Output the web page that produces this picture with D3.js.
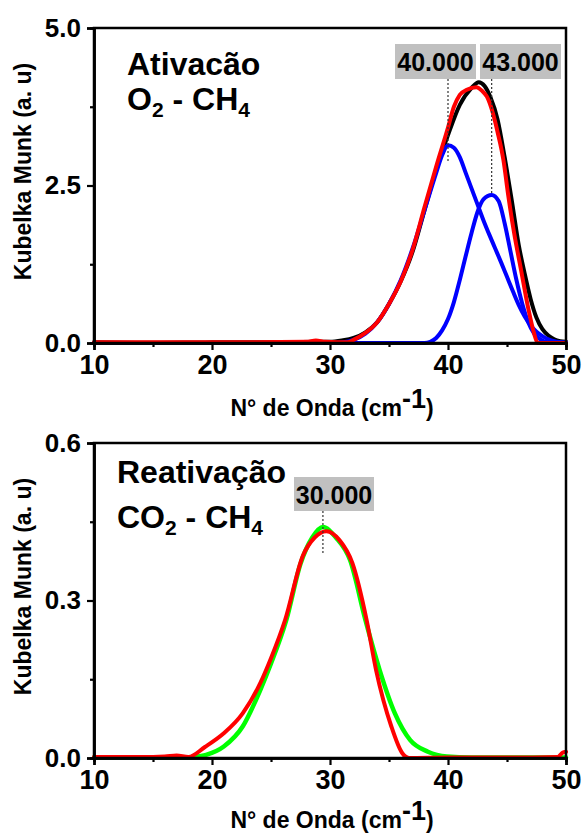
<!DOCTYPE html>
<html><head><meta charset="utf-8">
<script src="https://cdn.jsdelivr.net/npm/d3@7"></script>
<style>
body{margin:0;background:#fff}
text{font-family:Arial,"Liberation Sans",sans-serif;font-weight:bold;fill:#000}
</style>
</head><body>
<svg id="c" width="583" height="834"></svg>
<script>
// ---------- data ----------
const xTicks = [10, 20, 30, 40, 50];
const xMinor = [15, 25, 35, 45];
const topYTicks = [0, 2.5, 5];
const topYLabels = ["0.0", "2.5", "5.0"];
const topYMinor = [1.25, 3.75];
const botYTicks = [0, 0.3, 0.6];
const botYLabels = ["0.0", "0.3", "0.6"];
const botYMinor = [0.15, 0.45];

// Top panel: Ativacão O2 - CH4
const topBlack = [[10,0.01],[15,0.005],[20,0.01],[25,0.01],[29,0.02],[30,0.02],[31,0.04],[32,0.08],[33,0.17],[34,0.33],[35,0.62],[36,0.98],[37,1.45],[38,2.1],[39,2.75],[40,3.3],[41,3.78],[42,4.05],[42.6,4.14],[43.1,4.08],[43.6,3.9],[44.2,3.55],[44.8,2.95],[45.4,2.27],[46,1.55],[46.5,1.1],[47,0.7],[47.5,0.4],[48,0.22],[48.5,0.12],[49,0.06],[49.5,0.03],[50,0.02]];
const topBlue1 = [[10,0],[30,0],[31,0.01],[32,0.05],[33,0.15],[34,0.33],[35,0.62],[36,1.0],[37,1.5],[38,2.1],[39,2.7],[39.5,2.98],[40,3.14],[40.5,3.1],[41,2.95],[41.5,2.7],[42,2.45],[42.5,2.2],[43,1.95],[43.5,1.72],[44,1.5],[44.5,1.28],[45,1.05],[45.5,0.82],[46,0.6],[46.5,0.42],[47,0.28],[47.5,0.18],[48,0.11],[48.5,0.06],[49,0.03],[50,0.01]];
const topBlue2 = [[10,0],[38,0],[38.5,0.02],[39,0.08],[39.5,0.2],[40,0.38],[40.5,0.65],[41,1.0],[41.5,1.38],[42,1.75],[42.5,2.08],[43,2.28],[43.7,2.35],[44.3,2.25],[44.8,1.9],[45.3,1.45],[45.8,1.0],[46.3,0.62],[46.8,0.33],[47.3,0.15],[47.8,0.06],[48.5,0.01],[50,0]];
const topRed = [[10,0.01],[20,0.01],[28,0.02],[28.8,0.04],[29.6,0.02],[31.5,0.01],[32,0.05],[33,0.16],[34,0.33],[35,0.62],[36,0.98],[37,1.48],[38,2.15],[39,2.8],[40,3.42],[40.5,3.75],[41,3.94],[41.6,4.02],[42.4,4.06],[42.9,4.0],[43.3,3.91],[43.8,3.65],[44.2,3.35],[44.7,2.9],[45.1,2.35],[45.6,1.75],[46.2,1.15],[46.8,0.55],[47.3,0.15],[47.6,0.0],[48,0.0],[50,0.0]];
const topPeakLabels = ["40.000", "43.000"];
const topPeakX = [40.0, 43.7];
const topPeakY = [2.86, 2.35];

// Bottom panel: Reativação CO2 - CH4
const botGreen = [[10,0.001],[14,0.001],[18,0.001],[18.5,0.002],[19.5,0.006],[21,0.022],[22.6,0.06],[24.1,0.13],[25,0.18],[26.3,0.263],[27.5,0.37],[28.5,0.42],[29.4,0.44],[30.5,0.42],[31.7,0.377],[33.0,0.263],[34.2,0.168],[35.5,0.085],[36.8,0.034],[38.3,0.012],[39.9,0.003],[42,0.001],[50,0.001]];
const botRed = [[10,0.002],[14,0.002],[16,0.003],[17,0.005],[18,0.002],[19.4,0.021],[21,0.047],[22.6,0.085],[24.1,0.143],[25,0.19],[26.2,0.263],[27.7,0.385],[28.7,0.42],[29.7,0.432],[30.8,0.415],[31.9,0.371],[33.1,0.263],[33.9,0.168],[35.2,0.06],[36.1,0.01],[36.7,0.0],[40,0.001],[45,0.001],[49.3,0.002],[49.7,0.01],[50,0.012]];
const botPeakLabels = ["30.000"];
const botPeakX = [29.4];
const botPeakY = [0.39];

// ---------- drawing ----------
const svg = d3.select("#c");
const L = 94, R = 566;
const FF = "Arial, 'Liberation Sans', sans-serif";

function panel(o) {
  const g = svg.append("g");
  const x = d3.scaleLinear().domain([10, 50]).range([L, R]);
  const y = d3.scaleLinear().domain(o.yDomain).range([o.bottom, o.top]);

  const line = d3.line().x(d => x(d[0])).y(d => y(d[1])).curve(d3.curveMonotoneX);
  o.series.forEach(s => {
    g.append("path").datum(s.data).attr("d", line)
      .attr("fill", "none").attr("stroke", s.color).attr("stroke-width", s.w)
      .attr("stroke-linejoin", "round").attr("stroke-linecap", "round");
  });

  g.append("rect").attr("x", L).attr("y", o.top).attr("width", R - L).attr("height", o.bottom - o.top)
    .attr("fill", "none").attr("stroke", "#000").attr("stroke-width", 2.5);

  const xa = g.append("g").attr("transform", `translate(0,${o.bottom})`)
    .call(d3.axisBottom(x).tickValues(xTicks).tickSize(7).tickPadding(5).tickFormat(d3.format("d")));
  const xm = g.append("g").attr("transform", `translate(0,${o.bottom})`)
    .call(d3.axisBottom(x).tickValues(xMinor).tickSize(4).tickFormat(""));
  const ya = g.append("g").attr("transform", `translate(${L},0)`)
    .call(d3.axisLeft(y).tickValues(o.yTicks).tickSize(7).tickPadding(6).tickFormat((d, i) => o.yLabels[i]));
  const ym = g.append("g").attr("transform", `translate(${L},0)`)
    .call(d3.axisLeft(y).tickValues(o.yMinor).tickSize(4).tickFormat(""));
  [xa, xm, ya, ym].forEach(a => {
    a.select(".domain").attr("stroke", "#000").attr("stroke-width", 2.5);
    a.selectAll(".tick line").attr("stroke", "#000").attr("stroke-width", 2.2);
  });
  xa.selectAll(".tick text").attr("font-size", 27).attr("font-family", FF).attr("font-weight", "bold");
  ya.selectAll(".tick text").attr("font-size", 26).attr("font-family", FF).attr("font-weight", "bold");

  const xt = g.append("text").attr("x", (L + R) / 2 + 2).attr("y", o.bottom + o.xTitleDy).attr("text-anchor", "middle").attr("font-size", 23);
  xt.append("tspan").text("N° de Onda (cm");
  xt.append("tspan").attr("font-size", 27).attr("dy", -8).text("-1");
  xt.append("tspan").attr("font-size", 23).attr("dy", 8).text(")");
  g.append("text").attr("transform", `translate(31,${(o.top + o.bottom) / 2 - 14}) rotate(-90)`)
    .attr("text-anchor", "middle").attr("font-size", 23).text("Kubelka Munk (a. u)");

  g.append("text").attr("x", o.titleX).attr("y", o.top + o.titleDy1).attr("font-size", 32).text(o.title1);
  const t2 = g.append("text").attr("x", o.titleX).attr("y", o.top + o.titleDy2).attr("font-size", 32);
  o.title2.forEach(p => {
    t2.append("tspan").attr("font-size", p.sub ? 21 : 32).attr("dy", p.sub ? 7 : (p.after ? -7 : 0)).text(p.t);
  });

  o.peaks.forEach(p => {
    const px = x(p.x), py = y(p.y);
    g.append("line").attr("x1", px).attr("x2", px).attr("y1", o.top + p.boxTop + p.boxH).attr("y2", py)
      .attr("stroke", "#333").attr("stroke-width", 1.2).attr("stroke-dasharray", "2,2");
    g.append("rect").attr("x", p.boxX).attr("y", o.top + p.boxTop).attr("width", p.boxW).attr("height", p.boxH)
      .attr("fill", "#c0c0c0");
    g.append("text").attr("x", p.boxX + p.boxW / 2).attr("y", o.top + p.boxTop + 27).attr("text-anchor", "middle")
      .attr("font-size", 25).text(p.label);
  });
}

panel({
  top: 28, bottom: 343, yDomain: [0, 5], yTicks: topYTicks, yLabels: topYLabels, yMinor: topYMinor,
  xTitleDy: 73,
  series: [
    {data: topBlack, color: "#000000", w: 4},
    {data: topBlue1, color: "#0000ff", w: 4},
    {data: topBlue2, color: "#0000ff", w: 4},
    {data: topRed, color: "#ff0000", w: 4}
  ],
  titleX: 127, titleDy1: 47, titleDy2: 82,
  title1: "Ativacão",
  title2: [{t: "O"}, {t: "2", sub: true}, {t: " - CH", after: true}, {t: "4", sub: true}],
  peaks: [
    {x: topPeakX[0], y: topPeakY[0], label: topPeakLabels[0], boxX: 395, boxW: 81, boxTop: 16, boxH: 35},
    {x: topPeakX[1], y: topPeakY[1], label: topPeakLabels[1], boxX: 480, boxW: 81, boxTop: 16, boxH: 35}
  ]
});

panel({
  top: 443, bottom: 758, yDomain: [0, 0.6], yTicks: botYTicks, yLabels: botYLabels, yMinor: botYMinor,
  xTitleDy: 70,
  series: [
    {data: botGreen, color: "#00ff00", w: 4.5},
    {data: botRed, color: "#ff0000", w: 4}
  ],
  titleX: 117, titleDy1: 40, titleDy2: 85,
  title1: "Reativação",
  title2: [{t: "CO"}, {t: "2", sub: true}, {t: " - CH", after: true}, {t: "4", sub: true}],
  peaks: [
    {x: botPeakX[0], y: botPeakY[0], label: botPeakLabels[0], boxX: 294, boxW: 80, boxTop: 34, boxH: 34}
  ]
});
</script>
</body></html>
